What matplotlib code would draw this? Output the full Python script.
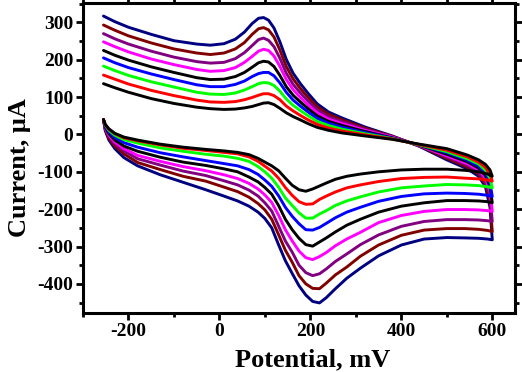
import matplotlib
matplotlib.use("Agg")
import matplotlib.pyplot as plt
from matplotlib.ticker import MultipleLocator

# forward (anodic) sweep potentials, mV
E_fwd = [-255, -230, -200, -150, -100, -50, -20, 10, 35, 55, 72, 86, 97, 108,
         120, 133, 147, 162, 178, 195, 215, 240, 270, 320, 380, 440, 500, 545,
         570, 585, 595, 600]
# reverse (cathodic) sweep potentials, mV
E_rev = [600, 590, 570, 540, 500, 450, 400, 350, 310, 280, 255, 235, 220, 205,
         190, 175, 160, 145, 130, 115, 100, 85, 65, 40, 10, -30, -80, -130,
         -180, -210, -230, -243, -251, -255]

# currents, uA (smallest scan rate first)
black1_fwd = [136, 125, 113, 96, 83, 73, 69, 67, 68, 71, 75, 80, 84, 85,
              80, 70, 58, 48, 39, 29, 19, 11, 4, -4, -13, -26, -38, -55,
              -68, -80, -95, -112]
black1_rev = [-112, -106, -100, -96, -93, -93, -95, -100, -106, -112, -120, -130, -138, -146,
              -152, -148, -136, -117, -97, -84, -74, -64, -54, -48, -44, -40, -34, -26,
              -15, -7, 3, 15, 27, 40]

red_fwd = [159, 148, 135, 118, 104, 92, 87, 86, 88, 93, 99, 105, 109, 109,
           104, 93, 76, 63, 51, 39, 27, 17, 9, -1, -12, -27, -42, -60,
           -74, -88, -106, -125]
red_rev = [-125, -122, -119, -117, -114, -115, -118, -126, -135, -143, -154, -165, -174, -186,
           -187, -180, -163, -142, -117, -98, -85, -72, -60, -52, -48, -43, -37, -28,
           -17, -9, 2, 14, 26, 40]

green_fwd = [183, 171, 158, 141, 127, 113, 108, 107, 111, 119, 128, 136, 139, 138,
             131, 116, 95, 78, 64, 50, 35, 24, 14, 2, -11, -28, -46, -65,
             -79, -96, -118, -143]
green_rev = [-143, -140, -137, -135, -134, -138, -143, -154, -167, -178, -190, -204, -213, -224,
             -224, -210, -190, -170, -141, -117, -100, -86, -72, -64, -58, -53, -45, -36,
             -23, -14, -2, 11, 25, 40]

blue_fwd = [205, 192, 179, 162, 147, 133, 128, 128, 134, 143, 155, 163, 166, 166,
            157, 138, 113, 92, 76, 60, 43, 30, 19, 5, -10, -28, -49, -69,
            -85, -103, -130, -166]
blue_rev = [-166, -163, -160, -158, -157, -159, -166, -179, -195, -208, -223, -238, -249, -256,
            -255, -239, -219, -195, -164, -139, -122, -107, -94, -84, -78, -70, -60, -49,
            -34, -22, -8, 7, 22, 40]

black2_fwd = [225, 212, 199, 181, 166, 152, 147, 148, 155, 166, 180, 192, 196, 194,
              182, 158, 128, 105, 87, 69, 50, 35, 24, 8, -9, -29, -53, -73,
              -90, -110, -140, -183]
black2_rev = [-183, -180, -178, -177, -177, -183, -192, -208, -227, -243, -261, -277, -288, -299,
              -295, -278, -255, -227, -190, -160, -142, -127, -114, -100, -92, -83, -74, -61,
              -45, -31, -15, 2, 20, 40]

magenta_fwd = [248, 235, 221, 202, 187, 174, 169, 171, 179, 193, 209, 223, 228, 225,
               210, 182, 147, 120, 99, 79, 58, 41, 29, 11, -7, -30, -57, -78,
               -95, -117, -152, -206]
magenta_rev = [-206, -204, -202, -201, -201, -206, -217, -236, -262, -280, -298, -316, -327, -335,
               -330, -312, -285, -255, -216, -182, -162, -146, -131, -118, -108, -97, -86, -72,
               -56, -38, -20, -2, 18, 40]

purple_fwd = [270, 256, 242, 223, 207, 195, 191, 193, 203, 219, 238, 254, 258, 252,
              235, 204, 164, 134, 111, 89, 66, 47, 34, 14, -6, -30, -60, -82,
              -101, -124, -165, -233]
purple_rev = [-233, -231, -229, -228, -228, -233, -246, -269, -295, -320, -340, -360, -373, -378,
              -370, -350, -315, -285, -245, -205, -183, -165, -149, -135, -124, -110, -98, -82,
              -65, -44, -25, -5, 15, 40]

maroon_fwd = [293, 279, 264, 245, 229, 218, 214, 218, 229, 246, 268, 283, 286, 280,
              261, 226, 182, 149, 123, 99, 74, 54, 39, 17, -5, -31, -64, -87,
              -106, -132, -178, -260]
maroon_rev = [-260, -257, -254, -252, -252, -256, -270, -296, -326, -355, -376, -398, -413, -412,
              -400, -378, -342, -310, -268, -227, -202, -185, -168, -153, -141, -125, -112, -94,
              -75, -52, -31, -10, 13, 40]

navy_fwd = [317, 302, 287, 268, 251, 242, 239, 243, 255, 274, 297, 311, 313, 306,
            285, 248, 201, 164, 136, 110, 82, 60, 44, 20, -4, -32, -68, -92,
            -112, -140, -195, -282]
navy_rev = [-282, -280, -278, -277, -276, -280, -296, -325, -358, -385, -413, -437, -451, -447,
            -430, -405, -372, -338, -295, -250, -225, -208, -192, -178, -165, -148, -128, -108,
            -84, -62, -38, -15, 10, 40]

series = [
    (navy_fwd, navy_rev, "#000080"),
    (maroon_fwd, maroon_rev, "#800000"),
    (purple_fwd, purple_rev, "#800080"),
    (magenta_fwd, magenta_rev, "#ff00ff"),
    (black2_fwd, black2_rev, "#000000"),
    (blue_fwd, blue_rev, "#0000ff"),
    (green_fwd, green_rev, "#00ff00"),
    (red_fwd, red_rev, "#ff0000"),
    (black1_fwd, black1_rev, "#000000"),
]

plt.rcParams["font.family"] = ["Liberation Serif", "DejaVu Serif"]
plt.rcParams["font.weight"] = "bold"
plt.rcParams["axes.unicode_minus"] = False

fig = plt.figure(figsize=(5.22, 3.72), dpi=100)
ax = fig.add_axes([0.159, 0.1586, 0.8276, 0.8334])

for fwd, rev, color in series:
    ax.plot(E_fwd + E_rev, fwd + rev, color=color, linewidth=2.1,
            solid_joinstyle="round", solid_capstyle="round")

ax.set_xlim(-300, 650)
ax.set_ylim(-478, 352)

ax.xaxis.set_major_locator(MultipleLocator(200))
ax.xaxis.set_minor_locator(MultipleLocator(100))
ax.yaxis.set_major_locator(MultipleLocator(100))
ax.yaxis.set_minor_locator(MultipleLocator(50))

for side in ["left", "right", "top", "bottom"]:
    ax.spines[side].set_linewidth(2.2)

ax.tick_params(which="both", direction="out", width=2, top=True, right=True,
               labeltop=False, labelright=False)
ax.tick_params(which="major", length=5, labelsize=14, pad=2)
ax.tick_params(which="minor", length=3)
for lbl in ax.get_xticklabels() + ax.get_yticklabels():
    lbl.set_fontweight("bold")

ax.set_xlabel("Potential, mV", fontsize=19, fontweight="bold", labelpad=0)
ax.set_ylabel("Current, \u03bcA", fontsize=19, fontweight="bold", labelpad=1)
ax.xaxis.set_label_coords(0.532, -0.115)
ax.yaxis.set_label_coords(-0.12, 0.47)

fig.savefig("out.png", dpi=100)
